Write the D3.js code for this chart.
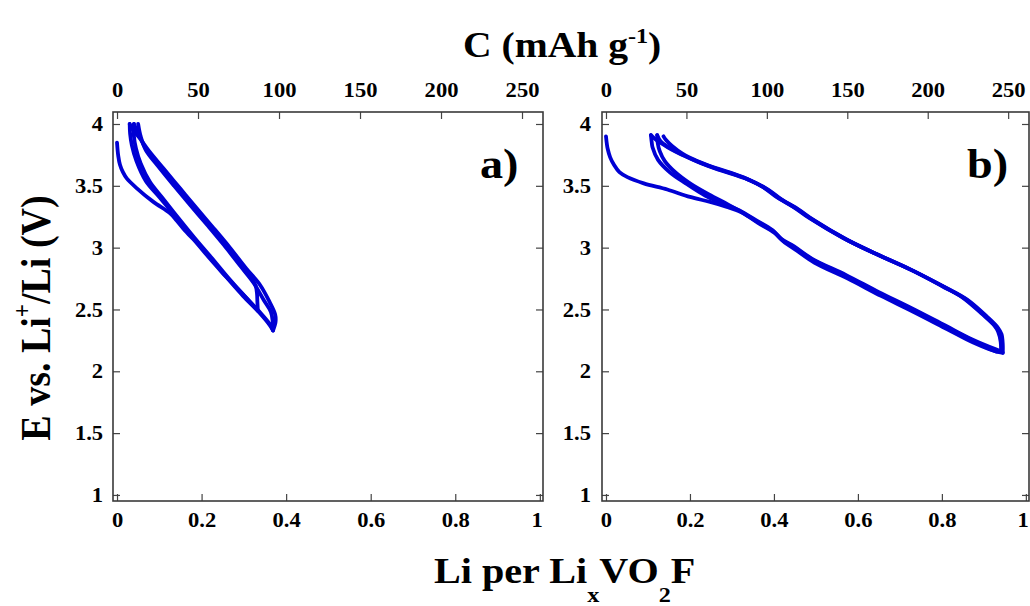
<!DOCTYPE html>
<html>
<head>
<meta charset="utf-8">
<script src="https://cdn.jsdelivr.net/npm/d3@7"></script>
<style>
    body { margin: 0; background: #fff; }
    svg text { font-family: "Liberation Serif", "Times New Roman", serif; font-weight: bold; fill: #000; }
</style>
</head>
<body>
<svg id="chart" width="1030" height="606"></svg>
<script>
// tick values
const xTicks = [0, 0.2, 0.4, 0.6, 0.8, 1];
const yTicks = [1, 1.5, 2, 2.5, 3, 3.5, 4];
const capTicks = [0, 50, 100, 150, 200, 250];
const capacityPerLi = 261; // mAh/g for one Li

// panel a) cycles [Li, E]
const aDischarge1 = [[0.000,3.85],[0.003,3.74],[0.007,3.67],[0.014,3.61],[0.023,3.56],[0.047,3.48],[0.086,3.37],[0.125,3.28],[0.141,3.22],[0.160,3.14],[0.180,3.07],[0.220,2.91],[0.259,2.76],[0.298,2.61],[0.338,2.47],[0.362,2.37],[0.369,2.33]];
const aCharge1 = [[0.369,2.33],[0.375,2.40],[0.374,2.46],[0.361,2.56],[0.338,2.70],[0.306,2.83],[0.267,3.00],[0.228,3.16],[0.188,3.32],[0.149,3.48],[0.110,3.64],[0.076,3.78],[0.055,3.88],[0.038,3.95],[0.030,4.00]];
const aDischarge2 = [[0.030,4.00],[0.031,3.92],[0.035,3.83],[0.046,3.70],[0.068,3.54],[0.100,3.41],[0.139,3.25],[0.178,3.09],[0.218,2.93],[0.257,2.77],[0.296,2.63],[0.333,2.49]];
const aCharge2 = [[0.333,2.49],[0.332,2.56],[0.331,2.63],[0.328,2.69],[0.318,2.75],[0.296,2.85],[0.257,3.02],[0.218,3.18],[0.178,3.34],[0.139,3.50],[0.100,3.66],[0.068,3.80],[0.052,3.91],[0.040,4.00]];
const aDischarge3 = [[0.040,4.00],[0.040,3.90],[0.045,3.80],[0.056,3.68],[0.078,3.53],[0.108,3.40],[0.145,3.24],[0.183,3.08],[0.223,2.92],[0.262,2.76],[0.301,2.61],[0.340,2.47],[0.364,2.37],[0.368,2.34]];
const aCharge3 = [[0.368,2.34],[0.368,2.41],[0.364,2.48],[0.348,2.57],[0.324,2.71],[0.292,2.85],[0.253,3.02],[0.214,3.18],[0.174,3.34],[0.135,3.50],[0.097,3.66],[0.068,3.79],[0.056,3.90],[0.050,4.00]];

// panel b) cycles [Li, E]
const bDischarge1 = [[0.000,3.90],[0.002,3.84],[0.004,3.80],[0.010,3.73],[0.019,3.67],[0.032,3.61],[0.051,3.57],[0.090,3.52],[0.146,3.47],[0.200,3.41],[0.248,3.37],[0.288,3.33],[0.320,3.29],[0.360,3.21],[0.399,3.13],[0.420,3.06],[0.450,3.00],[0.493,2.90],[0.573,2.77],[0.652,2.63],[0.730,2.50],[0.810,2.36],[0.873,2.25],[0.929,2.16],[0.945,2.15]];
const bCharge1 = [[0.945,2.15],[0.945,2.22],[0.942,2.30],[0.934,2.35],[0.908,2.44],[0.860,2.58],[0.813,2.67],[0.733,2.81],[0.655,2.93],[0.576,3.06],[0.496,3.22],[0.458,3.31],[0.418,3.39],[0.386,3.47],[0.346,3.54],[0.306,3.59],[0.268,3.63],[0.228,3.68],[0.188,3.74],[0.148,3.81],[0.120,3.87],[0.107,3.91]];
const bDischarge2 = [[0.107,3.91],[0.109,3.85],[0.111,3.81],[0.124,3.71],[0.152,3.61],[0.190,3.52],[0.237,3.42],[0.285,3.35],[0.318,3.30],[0.358,3.22],[0.397,3.14],[0.418,3.07],[0.448,3.01],[0.491,2.91],[0.571,2.78],[0.650,2.64],[0.728,2.51],[0.808,2.37],[0.871,2.26],[0.927,2.18],[0.943,2.16]];
const bCharge2 = [[0.943,2.16],[0.942,2.23],[0.938,2.31],[0.929,2.36],[0.902,2.45],[0.854,2.59],[0.806,2.68],[0.727,2.82],[0.649,2.94],[0.570,3.07],[0.490,3.23],[0.452,3.32],[0.412,3.40],[0.380,3.48],[0.340,3.55],[0.300,3.60],[0.262,3.64],[0.222,3.69],[0.183,3.75],[0.150,3.81],[0.130,3.86],[0.122,3.91]];
const bDischarge3 = [[0.122,3.91],[0.123,3.85],[0.128,3.78],[0.140,3.70],[0.165,3.61],[0.200,3.52],[0.245,3.43],[0.290,3.35],[0.322,3.29],[0.362,3.20],[0.401,3.12],[0.423,3.05],[0.453,2.98],[0.496,2.88],[0.576,2.75],[0.655,2.61],[0.733,2.48],[0.813,2.34],[0.876,2.23],[0.930,2.16],[0.941,2.16]];
const bCharge3 = [[0.941,2.16],[0.940,2.24],[0.934,2.32],[0.925,2.37],[0.897,2.46],[0.848,2.60],[0.800,2.69],[0.721,2.83],[0.643,2.95],[0.564,3.08],[0.484,3.24],[0.446,3.33],[0.406,3.41],[0.374,3.49],[0.334,3.56],[0.294,3.61],[0.256,3.65],[0.217,3.70],[0.182,3.76],[0.158,3.82],[0.143,3.87],[0.137,3.90]];

const svg = d3.select("#chart");
const stretch = 1.1; // the figure's lettering is a little wide

const panels = [
    { label: "a)", left: 113, right: 543, labelX: 480, leftPad: 9,
      curves: [aDischarge1, aCharge1, aDischarge2, aCharge2, aDischarge3, aCharge3] },
    { label: "b)", left: 602, right: 1029, labelX: 967, leftPad: 10,
      curves: [bDischarge1, bCharge1, bDischarge2, bCharge2, bDischarge3, bCharge3] }
];
const frameTop = 112, frameBottom = 501;

panels.forEach(drawPanel);

function drawPanel(p) {
    // frame is a bit wider than 0..1
    const x = d3.scaleLinear().domain([-0.0095, 1.0075]).range([p.left, p.right]);
    const y = d3.scaleLinear().domain([0.951, 4.097]).range([frameBottom, frameTop]);
    const c = d3.scaleLinear().domain(x.domain().map(v => v * capacityPerLi)).range([p.left, p.right]);

    const g = svg.append("g");

    const line = d3.line()
        .x(d => x(d[0]))
        .y(d => y(d[1]))
        .curve(d3.curveCatmullRom.alpha(0.5));

    g.selectAll("path.curve")
        .data(p.curves)
        .enter().append("path")
        .attr("class", "curve")
        .attr("d", line)
        .attr("fill", "none")
        .attr("stroke", "#0000d4")
        .attr("stroke-width", 3.8)
        .attr("stroke-linejoin", "round")
        .attr("stroke-linecap", "round");

    const plain = d => String(d);
    const bottomAxis = g.append("g")
        .attr("transform", `translate(0,${frameBottom})`)
        .call(d3.axisBottom(x).tickValues(xTicks).tickFormat(plain).tickSize(-7).tickSizeOuter(0).tickPadding(11));
    const topAxis = g.append("g")
        .attr("transform", `translate(0,${frameTop})`)
        .call(d3.axisTop(c).tickValues(capTicks).tickFormat(plain).tickSize(-7).tickSizeOuter(0).tickPadding(15));
    const leftAxis = g.append("g")
        .attr("transform", `translate(${p.left},0)`)
        .call(d3.axisLeft(y).tickValues(yTicks).tickFormat(plain).tickSize(-7).tickSizeOuter(0).tickPadding(p.leftPad));
    g.append("g")
        .attr("transform", `translate(${p.right},0)`)
        .call(d3.axisRight(y).tickValues(yTicks).tickSize(-7).tickSizeOuter(0).tickFormat(""));

    g.selectAll(".domain").remove();
    g.selectAll(".tick line").attr("stroke", "#444").attr("stroke-width", 1.2);
    [bottomAxis, topAxis, leftAxis].forEach(a => {
        a.selectAll("text")
            .attr("font-size", 20.5)
            .attr("font-family", null)
            .attr("fill", "#000")
            .attr("transform", `scale(${stretch},1)`);
    });
    // keep the last bottom label inside the page
    bottomAxis.selectAll("text").filter(d => d === 1).attr("x", -3);

    g.append("rect")
        .attr("x", p.left)
        .attr("y", frameTop)
        .attr("width", p.right - p.left)
        .attr("height", frameBottom - frameTop)
        .attr("fill", "none")
        .attr("stroke", "#3a3a3a")
        .attr("stroke-width", 1.6);

    g.append("text")
        .attr("transform", `translate(${p.labelX},178) scale(${stretch},1)`)
        .attr("font-size", 42)
        .text(p.label);
}

// top title
const title = svg.append("text")
    .attr("transform", `translate(463,57) scale(${stretch},1)`)
    .attr("font-size", 36);
title.append("tspan").text("C (mAh g");
title.append("tspan").attr("font-size", 22).attr("dy", -14).text("-1");
title.append("tspan").attr("dy", 14).text(")");

// bottom title
const xTitle = svg.append("text")
    .attr("transform", `translate(434,583) scale(${stretch},1)`)
    .attr("font-size", 36.5);
xTitle.append("tspan").text("Li per Li");
xTitle.append("tspan").attr("font-size", 22).attr("dy", 19).text("x");
xTitle.append("tspan").attr("dy", -19).text("VO");
xTitle.append("tspan").attr("font-size", 22).attr("dy", 19).text("2");
xTitle.append("tspan").attr("dy", -19).text("F");

// left title
const yTitle = svg.append("text")
    .attr("transform", `translate(50,318) scale(${stretch},1) rotate(-90)`)
    .attr("text-anchor", "middle")
    .attr("font-size", 38);
yTitle.append("tspan").text("E vs. Li");
yTitle.append("tspan").attr("font-size", 23).attr("dy", -17).text("+");
yTitle.append("tspan").attr("dy", 17).text("/Li (V)");
</script>
</body>
</html>
